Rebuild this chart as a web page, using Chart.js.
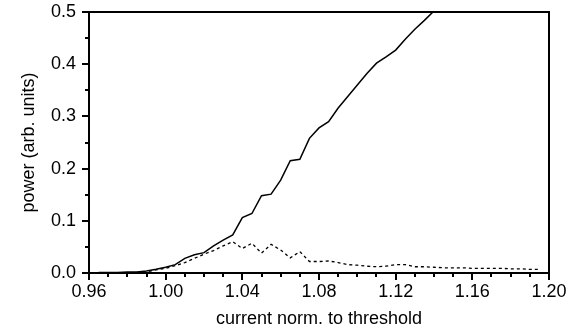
<!DOCTYPE html>
<html>
<head>
<meta charset="utf-8">
<script src="https://cdn.jsdelivr.net/npm/chart.js@4/dist/chart.umd.min.js"></script>
<style>
  html, body { margin: 0; padding: 0; background: #fff; }
  #wrap { width: 580px; height: 330px; }
</style>
</head>
<body>
<div id="wrap"><canvas id="powerChart" width="580" height="330"></canvas></div>
<script>
// current normalised to threshold (x positions of the measured points)
const current = [
    0.965, 0.970, 0.975, 0.980, 0.985, 0.990, 0.995, 1.000, 1.005, 1.010,
    1.015, 1.020, 1.025, 1.030, 1.035, 1.040, 1.045, 1.050, 1.055, 1.060,
    1.065, 1.070, 1.075, 1.080, 1.085, 1.090, 1.095, 1.100, 1.105, 1.110,
    1.115, 1.120, 1.125, 1.130, 1.135, 1.140, 1.145, 1.150, 1.155, 1.160,
    1.165, 1.170, 1.175, 1.180, 1.185, 1.190, 1.195
];

// solid trace (runs off the top of the plot after ~1.14)
const powerSolid = [
    0.001, 0.001, 0.001, 0.002, 0.002, 0.004, 0.007, 0.011, 0.016, 0.028,
    0.035, 0.039, 0.052, 0.063, 0.073, 0.106, 0.114, 0.148, 0.151, 0.178,
    0.215, 0.218, 0.258, 0.278, 0.290, 0.316, 0.338, 0.360, 0.382, 0.402,
    0.414, 0.427, 0.448, 0.467, 0.484, 0.502, null, null, null, null,
    null, null, null, null, null, null, null
];

// dashed trace
const powerDashed = [
    null, null, null, null, 0.001, 0.002, 0.006, 0.009, 0.014, 0.020,
    0.028, 0.036, 0.043, 0.052, 0.060, 0.047, 0.057, 0.038, 0.055, 0.044,
    0.029, 0.041, 0.022, 0.022, 0.023, 0.020, 0.016, 0.015, 0.013, 0.012,
    0.013, 0.016, 0.016, 0.012, 0.012, 0.011, 0.010, 0.010, 0.010, 0.009,
    0.009, 0.009, 0.009, 0.008, 0.008, 0.007, 0.007
];

// axis ranges and tick spacing
const xRange = [0.96, 1.20];
const yRange = [0.0, 0.5];
const xMajorStep = 0.04, xMinorStep = 0.01;
const yMajorStep = 0.1, yMinorStep = 0.05;

const FONT = 'Liberation Sans, Arial, Helvetica, sans-serif';
Chart.defaults.color = '#000';
Chart.defaults.font.family = FONT;

// frame on top/right plus the short minor ticks
const frameAndMinorTicks = {
    id: 'frameAndMinorTicks',
    afterDraw(chart) {
        const { ctx, chartArea: a, scales: { x, y } } = chart;
        ctx.save();
        ctx.strokeStyle = '#000';
        ctx.lineWidth = 2;
        ctx.beginPath();
        ctx.moveTo(a.left, a.top);
        ctx.lineTo(a.right, a.top);
        ctx.lineTo(a.right, a.bottom);
        ctx.stroke();

        ctx.beginPath();
        const nx = Math.round((xRange[1] - xRange[0]) / xMinorStep);
        for (let i = 1; i < nx; i++) {
            if (i % Math.round(xMajorStep / xMinorStep) === 0) continue;
            const px = Math.round(x.getPixelForValue(xRange[0] + i * xMinorStep));
            ctx.moveTo(px, a.bottom);
            ctx.lineTo(px, a.bottom + 4);
        }
        const ny = Math.round((yRange[1] - yRange[0]) / yMinorStep);
        for (let i = 1; i < ny; i++) {
            if (i % Math.round(yMajorStep / yMinorStep) === 0) continue;
            const py = Math.round(y.getPixelForValue(yRange[0] + i * yMinorStep));
            ctx.moveTo(a.left, py);
            ctx.lineTo(a.left - 4, py);
        }
        ctx.stroke();
        ctx.restore();
    }
};

const ctx = document.getElementById('powerChart').getContext('2d');
new Chart(ctx, {
    type: 'line',
    data: {
        datasets: [
            {
                label: 'solid',
                data: current.map((c, i) => ({ x: c, y: powerSolid[i] })),
                borderColor: '#000',
                borderWidth: 1.5,
                pointRadius: 0,
                tension: 0,
                fill: false
            },
            {
                label: 'dashed',
                data: current.map((c, i) => ({ x: c, y: powerDashed[i] })),
                borderColor: '#000',
                borderWidth: 1.3,
                borderDash: [3, 3],
                pointRadius: 0,
                tension: 0,
                fill: false
            }
        ]
    },
    options: {
        responsive: false,
        animation: false,
        events: [],
        layout: { padding: { top: 12, right: 31, left: 0, bottom: 0 } },
        plugins: {
            legend: { display: false },
            tooltip: { enabled: false }
        },
        scales: {
            x: {
                type: 'linear',
                min: xRange[0],
                max: xRange[1],
                afterFit: (s) => { s.height = 57; s.paddingLeft = 0; s.paddingRight = 0; },
                grid: {
                    display: true,
                    drawOnChartArea: false,
                    drawTicks: true,
                    tickLength: 7,
                    lineWidth: 2,
                    color: '#000'
                },
                border: { display: true, color: '#000', width: 2 },
                ticks: {
                    stepSize: xMajorStep,
                    padding: 1,
                    maxRotation: 0,
                    font: { size: 18, family: FONT },
                    callback: (v) => Number(v).toFixed(2)
                },
                title: {
                    display: true,
                    text: 'current norm. to threshold',
                    font: { size: 18, family: FONT },
                    padding: { top: 0, bottom: 0 }
                }
            },
            y: {
                min: yRange[0],
                max: yRange[1],
                afterFit: (s) => { s.width = 89; s.paddingTop = 0; s.paddingBottom = 0; },
                grid: {
                    display: true,
                    drawOnChartArea: false,
                    drawTicks: true,
                    tickLength: 7,
                    lineWidth: 2,
                    color: '#000'
                },
                border: { display: true, color: '#000', width: 2 },
                ticks: {
                    stepSize: yMajorStep,
                    padding: 6,
                    font: { size: 18, family: FONT },
                    callback: (v) => Number(v).toFixed(1)
                },
                title: {
                    display: true,
                    text: 'power (arb. units)',
                    font: { size: 18, family: FONT },
                    padding: { top: 18, bottom: 0 }
                }
            }
        }
    },
    plugins: [frameAndMinorTicks]
});
</script>
</body>
</html>
